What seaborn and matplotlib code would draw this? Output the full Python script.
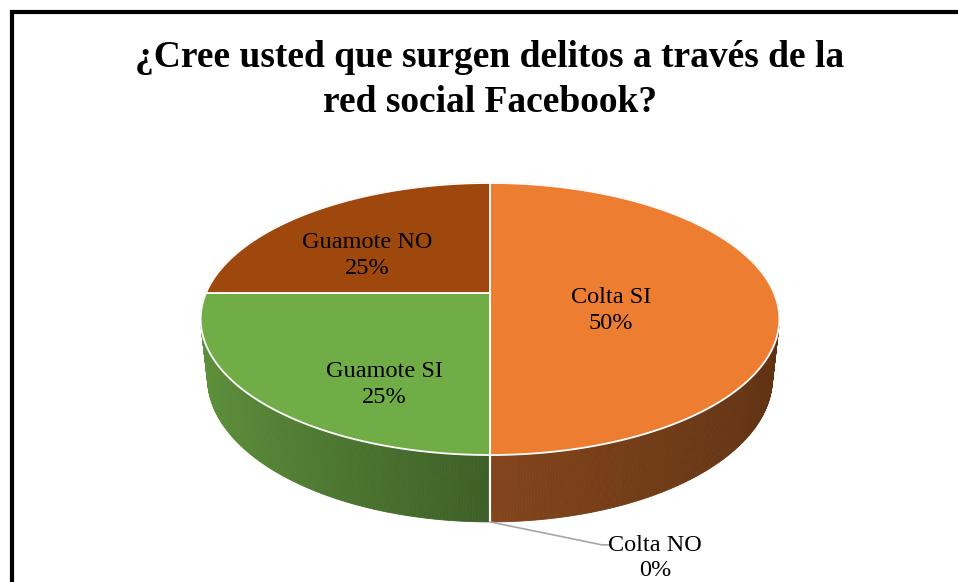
import numpy as np
import matplotlib.pyplot as plt
import seaborn as sns
from matplotlib.patches import Polygon
from matplotlib.colors import to_rgb

sns.set_style('white')
plt.rcParams['font.family'] = ['Liberation Serif', 'DejaVu Serif']
plt.rcParams['text.color'] = 'black'

title = '¿Cree usted que surgen delitos a través de la\nred social Facebook?'
labels = ['Colta SI', 'Colta NO', 'Guamote SI', 'Guamote NO']
values = [50, 0, 25, 25]
colors = ['#ED7D31', '#A5A5A5', '#70AD47', '#9E480E']

# label anchors on the pie top (radius, angle in degrees); None = outside with leader
label_spots = [(0.43, -14), None, (0.68, 241), (0.57, 144)]

# projection of the 3D disc (pixel space, y down)
CX, CY = 490, 293
S = 284
SIN_E = 0.4614
COS_E = np.sqrt(1 - SIN_E ** 2)
D = 4.64
DEPTH = 0.236


def proj(u, v, z=0.0):
    d = D + v * COS_E - z * SIN_E
    x = CX + S * u * D / d
    y = CY - S * (v * SIN_E + z * COS_E) * D / d
    return x, y


def shade(color, u):
    f = np.interp(u, [-1, 0, 1], [0.85, 0.55, 0.40])
    return tuple(np.array(to_rgb(color)) * f)


fig = plt.figure(figsize=(9.58, 5.82), dpi=100)
ax = fig.add_axes([0, 0, 1, 1])
ax.set_xlim(0, 958)
ax.set_ylim(582, 0)
ax.axis('off')

total = sum(values)
fracs = np.array(values) / total
starts = 90 - 360 * np.concatenate([[0], np.cumsum(fracs)[:-1]])
ends = starts - 360 * fracs

# side walls, back to front
strips = []
for val, col, t0, t1 in zip(values, colors, starts, ends):
    if val == 0:
        continue
    ts = np.radians(np.linspace(t0, t1, int(abs(t0 - t1) * 2) + 2))
    for a, b in zip(ts[:-1], ts[1:]):
        pts = [proj(np.cos(a), np.sin(a)), proj(np.cos(b), np.sin(b)),
               proj(np.cos(b), np.sin(b), -DEPTH), proj(np.cos(a), np.sin(a), -DEPTH)]
        m = (a + b) / 2
        strips.append((np.sin(m), pts, shade(col, np.cos(m))))
strips.sort(key=lambda s: -s[0])
for _, pts, c in strips:
    ax.add_patch(Polygon(pts, closed=True, facecolor=c, edgecolor=c, lw=0.6))

# seam on the wall where the empty slice sits
for t in starts:
    a = np.radians(t)
    if np.sin(a) < -0.99:
        p0 = proj(np.cos(a), np.sin(a))
        p1 = proj(np.cos(a), np.sin(a), -DEPTH)
        ax.plot([p0[0], p1[0]], [p0[1], p1[1]], color='white', lw=1.5)

# top faces
for val, col, t0, t1 in zip(values, colors, starts, ends):
    if val == 0:
        continue
    ts = np.radians(np.linspace(t0, t1, 200))
    pts = [proj(0, 0)] + [proj(np.cos(a), np.sin(a)) for a in ts]
    ax.add_patch(Polygon(pts, closed=True, facecolor=col, edgecolor='white', lw=1.3))

# data labels
for lab, val, spot, t0 in zip(labels, values, label_spots, starts):
    txt = f'{lab}\n{val / total:.0%}'
    if spot is not None:
        r, ang = spot
        x, y = proj(r * np.cos(np.radians(ang)), r * np.sin(np.radians(ang)))
        ax.text(x, y + 4, txt, ha='center', va='center', fontsize=17.5, linespacing=1.32)
    else:
        a = np.radians(t0)
        x0, y0 = proj(np.cos(a), np.sin(a), -DEPTH)
        ax.plot([x0, x0 + 112, x0 + 119], [y0, y0 + 23, y0 + 23], color='#A6A6A6', lw=1.2)
        ax.text(x0 + 165, y0 + 36, txt, ha='center', va='center', fontsize=17.5, linespacing=1.28)

ax.text(490, 80, title, ha='center', va='center', fontsize=27, weight='bold', linespacing=1.36)

# chart border (cropped at right and bottom)
ax.plot([12, 12, 970], [600, 12, 12], color='black', lw=3, solid_joinstyle='miter')

fig.savefig('out.png', dpi=100)
